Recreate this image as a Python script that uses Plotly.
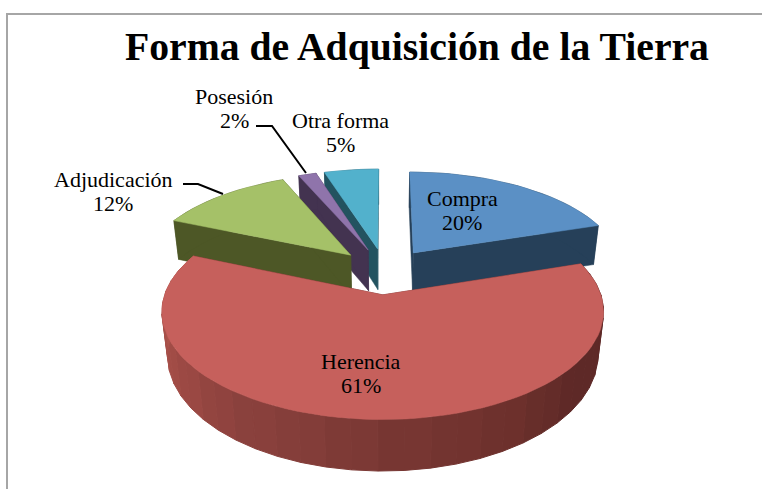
import math
import plotly.graph_objects as go

categories = ["Compra", "Herencia", "Adjudicación", "Posesión", "Otra forma"]
values = [20.0, 61.4, 12.1, 1.6, 4.9]
title = "Forma de Adquisición de la Tierra"

TOP = {"Compra": "#5b90c5", "Herencia": "#c6605c", "Adjudicación": "#a5c168", "Posesión": "#8f74ab", "Otra forma": "#52b1cc"}
WALL = {"Compra": "#264059", "Herencia": "#5e2927", "Adjudicación": "#4d5726", "Posesión": "#433350", "Otra forma": "#235360"}
DRAW_ORDER = ["Otra forma", "Posesión", "Adjudicación", "Compra", "Herencia"]
LABEL_XY = {"Compra": (462, 198), "Herencia": (361, 361), "Adjudicación": (113, 179), "Posesión": (234, 96), "Otra forma": (340, 120)}

# Projection of the exploded disc
X0, Y0, RX, RY, P, QZ, H, EXPLODE = 385, 271, 210.5, 98, 0.15, 0.025, 42, 0.235
SERIF = "Liberation Serif"
OFF = 8  # figure coordinates are measured from the window corner


def project(x, y, z):
    s0 = 1 / (1 + P * y)
    s = 1 / (1 + P * y + QZ * z)
    return X0 + RX * x * s - OFF, Y0 - RY * y * s0 + H * z * s0 - OFF


def rim(theta, ex, ey, z):
    return project(math.sin(theta) + ex, math.cos(theta) + ey, z)


def mix(a, b, t):
    return tuple(a[i] + (b[i] - a[i]) * t for i in range(3))


SHADE = [(90, (94, 41, 39)), (128, (94, 41, 39)), (145, (108, 48, 44)), (180, (122, 56, 52)),
         (215, (141, 66, 62)), (250, (165, 78, 72)), (295, (180, 91, 80))]
RIPPLE = [1.0, 0.99, 1.008, 0.995, 1.004, 0.988]


def shade(deg, k):
    for (d0, c0), (d1, c1) in zip(SHADE, SHADE[1:]):
        if d0 <= deg <= d1:
            c = mix(c0, c1, (deg - d0) / (d1 - d0))
            if deg > 135:
                c = tuple(min(255, v * RIPPLE[k % len(RIPPLE)]) for v in c)
            return "rgb(%d,%d,%d)" % tuple(c)
    return "rgb(94,41,39)"


fig = go.Figure()


def poly(points, color, lw=0.5):
    xs = [p[0] for p in points] + [points[0][0]]
    ys = [p[1] for p in points] + [points[0][1]]
    fig.add_trace(go.Scatter(x=xs, y=ys, mode="lines", fill="toself", fillcolor=color,
                             line=dict(color=color, width=lw), hoverinfo="skip", showlegend=False))


total = sum(values)
bounds = {}
acc = 0
for c, v in zip(categories, values):
    bounds[c] = (acc / total * 2 * math.pi, (acc + v) / total * 2 * math.pi)
    acc += v

for c in DRAW_ORDER:
    a0, a1 = bounds[c]
    mid = (a0 + a1) / 2
    ex, ey = EXPLODE * math.sin(mid), EXPLODE * math.cos(mid)
    n = max(6, int(math.degrees(a1 - a0) / 3))
    angs = [a0 + (a1 - a0) * i / n for i in range(n + 1)]
    for a in (a0, a1):
        poly([project(ex, ey, 0), rim(a, ex, ey, 0), rim(a, ex, ey, 1), project(ex, ey, 1)], WALL[c])
    if c == "Herencia":
        for k in range(0, n, 2):
            span = angs[k:k + 3]
            mid_deg = math.degrees(span[len(span) // 2])
            poly([rim(t, ex, ey, 0) for t in span] + [rim(t, ex, ey, 1) for t in reversed(span)],
                 shade(mid_deg, k // 2), lw=1)
    else:
        poly([rim(t, ex, ey, 0) for t in angs] + [rim(t, ex, ey, 1) for t in reversed(angs)], WALL[c])
    poly([project(ex, ey, 0)] + [rim(t, ex, ey, 0) for t in angs], TOP[c])

annotations = [dict(x=417 - OFF, y=47 - OFF, text="<b>%s</b>" % title, showarrow=False, xref="x", yref="y",
                    font=dict(family=SERIF, size=39.7, color="#000000"))]
for c, v in zip(categories, values):
    lx, ly = LABEL_XY[c]
    for i, line in enumerate([c, "%d%%" % round(v)]):
        annotations.append(dict(x=lx - OFF, y=ly + 24.5 * i - OFF, text=line, showarrow=False, xref="x", yref="y",
                                font=dict(family=SERIF, size=22, color="#000000")))


def path(points):
    return "M" + " L".join("%g,%g" % (x - OFF, y - OFF) for x, y in points)


shapes = [
    dict(type="path", path=path([(7, 489), (7, 14), (762, 14)]), line=dict(color="#a6a6a6", width=2), xref="x", yref="y"),
    dict(type="path", path=path([(183, 184), (198, 184), (223, 194)]), line=dict(color="#000000", width=2), xref="x", yref="y"),
    dict(type="path", path=path([(256, 126), (272, 126), (306, 173)]), line=dict(color="#000000", width=2), xref="x", yref="y"),
]

fig.update_layout(
    width=762, height=489, autosize=False, margin=dict(l=0, r=0, t=0, b=0),
    paper_bgcolor="#ffffff", plot_bgcolor="#ffffff", showlegend=False,
    xaxis=dict(range=[-8, 754], visible=False, fixedrange=True),
    yaxis=dict(range=[481, -8], visible=False, fixedrange=True),
    annotations=annotations, shapes=shapes,
)
fig.write_html("out.html", config={"displayModeBar": False},
               post_script="document.body.style.margin='0';")
